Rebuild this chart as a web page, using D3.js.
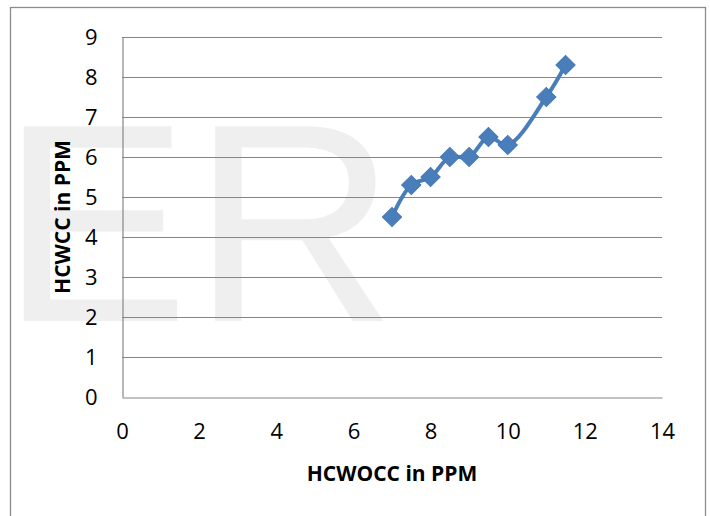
<!DOCTYPE html>
<html>
<head>
<meta charset="utf-8">
<script src="https://cdn.jsdelivr.net/npm/d3@7/dist/d3.min.js"></script>
<style>
  html, body { margin: 0; padding: 0; background: #fff; }
  svg { display: block; }
</style>
</head>
<body>
<svg id="chart" width="710" height="516"></svg>
<script>
// ---- data ----
const xValues = [7, 7.5, 8, 8.5, 9, 9.5, 10, 11, 11.5];
const yValues = [4.5, 5.3, 5.5, 6.0, 6.0, 6.5, 6.3, 7.5, 8.3];
const xTicks = [0, 2, 4, 6, 8, 10, 12, 14];
const yTicks = [0, 1, 2, 3, 4, 5, 6, 7, 8, 9];
const xTitle = "HCWOCC in PPM";
const yTitle = "HCWCC in PPM";
const watermark = ["E", "R"];

const svg = d3.select("#chart");
const W = 710, H = 516;
const plot = { left: 122, top: 37, right: 662, bottom: 397 };

const x = d3.scaleLinear().domain([0, 14]).range([plot.left, plot.right]);
const y = d3.scaleLinear().domain([0, 9]).range([plot.bottom, plot.top]);

// outer border
svg.append("rect")
  .attr("x", 10.5).attr("y", 7.5)
  .attr("width", 695).attr("height", 520)
  .attr("fill", "#fff").attr("stroke", "#8c8c8c").attr("stroke-width", 1.3);

// watermark
const wm = svg.append("g").attr("fill", "#efefef")
  .attr("font-family", "Liberation Sans, Arial, sans-serif")
  .attr("font-size", 283);
wm.append("text").attr("x", 0.5).attr("y", 321).text(watermark[0]);
wm.append("text").attr("x", 192).attr("y", 321).text(watermark[1]);

// gridlines
svg.append("g").selectAll("line")
  .data(yTicks.filter(d => d > 0))
  .join("line")
  .attr("x1", plot.left).attr("x2", plot.right)
  .attr("y1", d => Math.round(y(d)) + 0.5).attr("y2", d => Math.round(y(d)) + 0.5)
  .attr("stroke", "#868686").attr("stroke-width", 1.2);

// axes
const yAxis = d3.axisLeft(y).tickValues(yTicks).tickSize(0).tickPadding(25);
const gy = svg.append("g").attr("transform", `translate(${plot.left + 0.5},0)`).call(yAxis);
const xAxis = d3.axisBottom(x).tickValues(xTicks).tickSize(0).tickPadding(26);
const gx = svg.append("g").attr("transform", `translate(0,${plot.bottom + 0.5})`).call(xAxis);

[gx, gy].forEach(g => {
  g.select(".domain").attr("stroke", "#868686").attr("stroke-width", 1.2);
  g.selectAll("text")
    .attr("font-family", "Open Sans, sans-serif")
    .attr("font-size", 22)
    .attr("fill", "#000");
});

// axis titles
svg.append("text")
  .attr("x", (plot.left + plot.right) / 2).attr("y", 481)
  .attr("text-anchor", "middle")
  .attr("font-family", "Open Sans, sans-serif").attr("font-weight", "bold")
  .attr("font-size", 21).attr("fill", "#000")
  .text(xTitle);
svg.append("text")
  .attr("transform", `translate(70,${(plot.top + plot.bottom) / 2}) rotate(-90)`)
  .attr("text-anchor", "middle")
  .attr("font-family", "Open Sans, sans-serif").attr("font-weight", "bold")
  .attr("font-size", 21).attr("fill", "#000")
  .text(yTitle);

// series
const pts = xValues.map((v, i) => [v, yValues[i]]);
const line = d3.line().x(d => x(d[0])).y(d => y(d[1])).curve(d3.curveCatmullRom.alpha(0.5));
svg.append("path")
  .attr("d", line(pts))
  .attr("fill", "none").attr("stroke", "#4a7ebb").attr("stroke-width", 4)
  .attr("stroke-linejoin", "round");

const sym = d3.symbol().type(d3.symbolSquare).size(185);
svg.append("g").selectAll("path")
  .data(pts)
  .join("path")
  .attr("d", sym)
  .attr("transform", d => `translate(${x(d[0])},${y(d[1])}) rotate(45)`)
  .attr("fill", "#4a7ebb").attr("stroke", "#4677b2").attr("stroke-width", 1);
</script>
</body>
</html>
